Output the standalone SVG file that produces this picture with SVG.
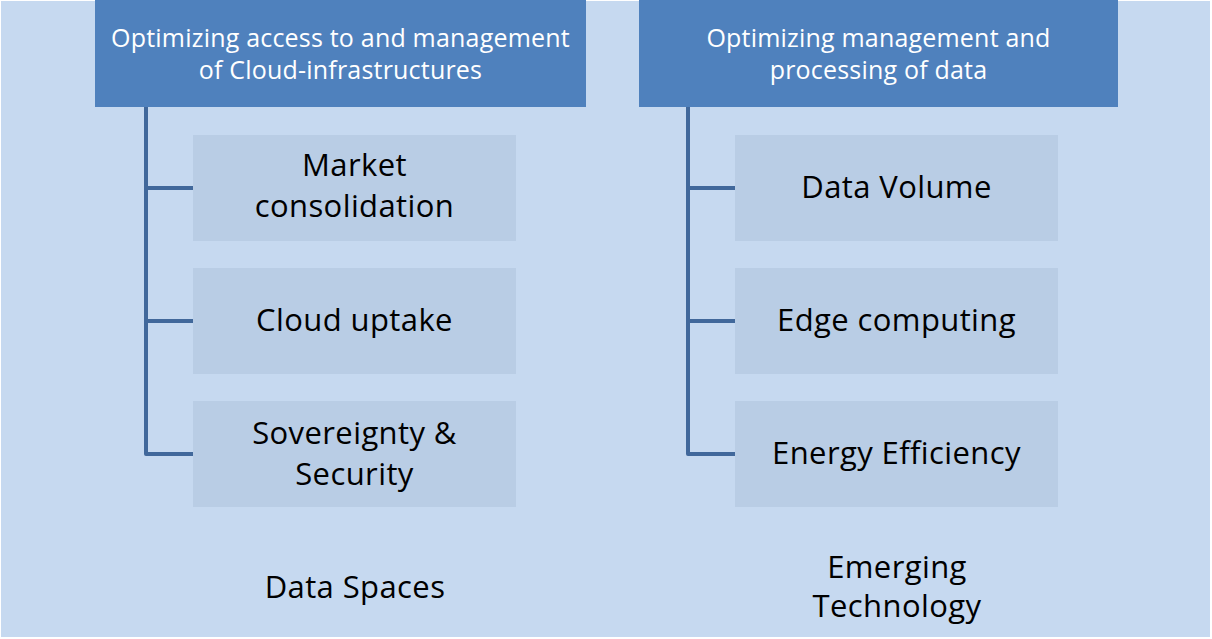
<svg xmlns="http://www.w3.org/2000/svg" width="1212" height="639" viewBox="0 0 1212 639">
<style>
.bg{fill:#C6D9F0}
.hdr{fill:#4F81BD}
.child{fill:#B9CDE5}
.ht{font-family:"Open Sans","Liberation Sans",Arial,sans-serif;font-size:25px;letter-spacing:0.2px;fill:#FFFFFF;text-anchor:middle}
.ct{font-family:"Open Sans","Liberation Sans",Arial,sans-serif;font-size:31px;letter-spacing:0.4px;fill:#000000;text-anchor:middle}
.conn{fill:none;stroke:#41689B;stroke-width:4;stroke-linejoin:round}
</style>
<rect x="0" y="0" width="1212" height="639" fill="#FFFFFF"/>
<rect class="bg" x="1" y="1" width="1209" height="636"/>
<g id="connectors">
<path class="conn" d="M146 107 V454 H193 M146 188 H193 M146 321 H193"/>
<path class="conn" d="M688 107 V454 H735 M688 188 H735 M688 321 H735"/>
</g>
<g id="header-left">
<rect class="hdr" x="95" y="0" width="491" height="107"/>
<text class="ht" x="340.5" y="47">Optimizing access to and management</text>
<text class="ht" x="340.5" y="79">of Cloud-infrastructures</text>
</g>
<g id="header-right">
<rect class="hdr" x="639" y="0" width="479" height="107"/>
<text class="ht" x="878.5" y="47">Optimizing management and</text>
<text class="ht" x="878.5" y="79">processing of data</text>
</g>
<g id="market">
<rect class="child" x="193" y="135" width="323" height="106"/>
<text class="ct" x="354.5" y="176">Market</text>
<text class="ct" x="354.5" y="217">consolidation</text>
</g>
<g id="cloud-uptake">
<rect class="child" x="193" y="268" width="323" height="106"/>
<text class="ct" x="354.5" y="331">Cloud uptake</text>
</g>
<g id="sovereignty">
<rect class="child" x="193" y="401" width="323" height="106"/>
<text class="ct" x="354.5" y="444">Sovereignty &amp;</text>
<text class="ct" x="354.5" y="485">Security</text>
</g>
<g id="data-volume">
<rect class="child" x="735" y="135" width="323" height="106"/>
<text class="ct" x="896.5" y="198">Data Volume</text>
</g>
<g id="edge-computing">
<rect class="child" x="735" y="268" width="323" height="106"/>
<text class="ct" x="896.5" y="331">Edge computing</text>
</g>
<g id="energy-efficiency">
<rect class="child" x="735" y="401" width="323" height="106"/>
<text class="ct" x="896.5" y="464">Energy Efficiency</text>
</g>
<g id="data-spaces">
<text class="ct" x="355" y="598">Data Spaces</text>
</g>
<g id="emerging-technology">
<text class="ct" x="897" y="578">Emerging</text>
<text class="ct" x="897" y="617">Technology</text>
</g>
</svg>
